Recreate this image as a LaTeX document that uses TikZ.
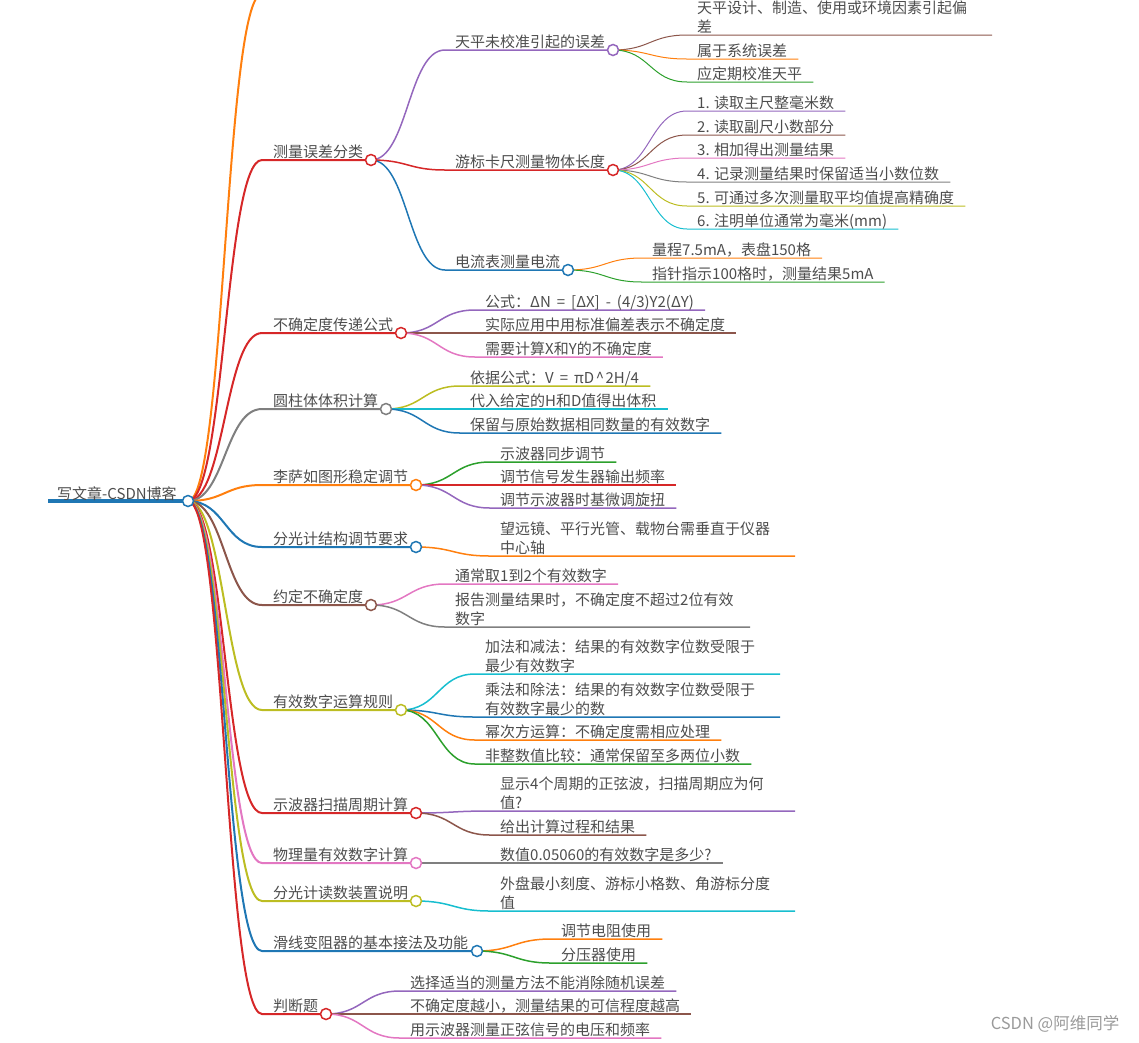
\documentclass[tikz,border=0pt]{standalone}
\usepackage{fontspec}
\setmainfont{Noto Sans CJK SC}
\usetikzlibrary{calc}
\definecolor{cblue}{HTML}{1F77B4}
\definecolor{corange}{HTML}{FF7F0E}
\definecolor{cgreen}{HTML}{2CA02C}
\definecolor{cred}{HTML}{D62728}
\definecolor{cpurple}{HTML}{9467BD}
\definecolor{cbrown}{HTML}{8C564B}
\definecolor{cpink}{HTML}{E377C2}
\definecolor{cgray}{HTML}{7F7F7F}
\definecolor{colive}{HTML}{BCBD22}
\definecolor{ccyan}{HTML}{17BECF}
\definecolor{ctext}{HTML}{4D4D4D}
\definecolor{cmark}{HTML}{9A9A9A}
\newcommand{\fs}{\fontsize{15}{19}\selectfont}
\newcommand{\widesp}{\spaceskip=6pt plus 1pt\relax}
\pgfdeclarelayer{bg}
\pgfsetlayers{bg,main}
\tikzset{
    x=1pt, y=-1pt,
    lbl/.style={anchor=north west, inner sep=0pt, text=ctext, font=\fs, align=left},
    dot/.style={circle, draw=#1, fill=white, line width=1.5pt, minimum size=11pt, inner sep=0pt},
    l1/.style={line width=2pt},
    l2/.style={line width=1.5pt},
    l3/.style={line width=1pt},
    branch/.style={to path={.. controls ($(\tikztostart)!0.5!(\tikztotarget |- \tikztostart)$) and ($(\tikztotarget)!0.5!(\tikztostart |- \tikztotarget)$) .. (\tikztotarget)}}
}

\begin{document}
\begin{tikzpicture}
    \useasboundingbox (0,0) rectangle (1139,1042);
    \clip (0,0) rectangle (1139,1042);
    % root
    \node[lbl] (root) at (57,486) {写文章-CSDN博客};
    \node[dot=cblue] (r0) at (188,501) {};
    \coordinate (s0) at (48,501);
    \coordinate (sx) at (262,-6);

    % first level
    \node[lbl] (t1) at (273,145) {测量误差分类};
    \node[dot=cred] (n1) at (371,160) {};
    \coordinate (s1) at (262,160);
    \node[lbl] (t2) at (273,318) {不确定度传递公式};
    \node[dot=cred] (n2) at (401,333) {};
    \coordinate (s2) at (262,333);
    \node[lbl] (t3) at (273,394) {圆柱体体积计算};
    \node[dot=cgray] (n3) at (386,409) {};
    \coordinate (s3) at (262,409);
    \node[lbl] (t4) at (273,470) {李萨如图形稳定调节};
    \node[dot=corange] (n4) at (416,485) {};
    \coordinate (s4) at (262,485);
    \node[lbl] (t5) at (273,532) {分光计结构调节要求};
    \node[dot=cblue] (n5) at (416,547) {};
    \coordinate (s5) at (262,547);
    \node[lbl] (t6) at (273,590) {约定不确定度};
    \node[dot=cbrown] (n6) at (371,605) {};
    \coordinate (s6) at (262,605);
    \node[lbl] (t7) at (273,695) {有效数字运算规则};
    \node[dot=colive] (n7) at (401,710) {};
    \coordinate (s7) at (262,710);
    \node[lbl] (t8) at (273,798) {示波器扫描周期计算};
    \node[dot=cred] (n8) at (416,813) {};
    \coordinate (s8) at (262,813);
    \node[lbl] (t9) at (273,848) {物理量有效数字计算};
    \node[dot=cpink] (n9) at (416,863) {};
    \coordinate (s9) at (262,863);
    \node[lbl] (t10) at (273,886) {分光计读数装置说明};
    \node[dot=colive] (n10) at (416,901) {};
    \coordinate (s10) at (262,901);
    \node[lbl] (t11) at (273,936) {滑线变阻器的基本接法及功能};
    \node[dot=cblue] (n11) at (477,951) {};
    \coordinate (s11) at (262,951);
    \node[lbl] (t12) at (273,999) {判断题};
    \node[dot=cred] (n12) at (326,1014) {};
    \coordinate (s12) at (262,1014);

    % second level
    \node[lbl] (t1a) at (455,35) {天平未校准引起的误差};
    \node[dot=cpurple] (n1a) at (613,50) {};
    \coordinate (s1a) at (445,50);
    \node[lbl] (t1b) at (455,155) {游标卡尺测量物体长度};
    \node[dot=cred] (n1b) at (613,170) {};
    \coordinate (s1b) at (445,170);
    \node[lbl] (t1c) at (455,255) {电流表测量电流};
    \node[dot=cblue] (n1c) at (568,270) {};
    \coordinate (s1c) at (445,270);

    \node[lbl] (t2a) at (485,295) {\widesp 公式：ΔN = [ΔX] - (4/3)Y2(ΔY)};
    \coordinate (s2a) at (475,310);
    \node[lbl] (t2b) at (485,318) {实际应用中用标准偏差表示不确定度};
    \coordinate (s2b) at (475,333);
    \node[lbl] (t2c) at (485,342) {需要计算X和Y的不确定度};
    \coordinate (s2c) at (475,357);

    \node[lbl] (t3a) at (470,371) {\widesp 依据公式：V = πD\kern1.5pt\textasciicircum\kern1.5pt 2H/4};
    \coordinate (s3a) at (460,386);
    \node[lbl] (t3b) at (470,394) {代入给定的H和D值得出体积};
    \coordinate (s3b) at (460,409);
    \node[lbl] (t3c) at (470,418) {保留与原始数据相同数量的有效数字};
    \coordinate (s3c) at (460,433);

    \node[lbl] (t4a) at (500,447) {示波器同步调节};
    \coordinate (s4a) at (490,462);
    \node[lbl] (t4b) at (500,470) {调节信号发生器输出频率};
    \coordinate (s4b) at (490,485);
    \node[lbl] (t4c) at (500,493) {调节示波器时基微调旋扭};
    \coordinate (s4c) at (490,508);

    \node[lbl] (t5a) at (500,522) {望远镜、平行光管、载物台需垂直于仪器\\中心轴};
    \coordinate (s5a) at (490,556);

    \node[lbl] (t6a) at (455,569) {通常取1到2个有效数字};
    \coordinate (s6a) at (445,584);
    \node[lbl] (t6b) at (455,593) {报告测量结果时，不确定度不超过2位有效\\数字};
    \coordinate (s6b) at (445,627);

    \node[lbl] (t7a) at (485,640) {加法和减法：结果的有效数字位数受限于\\最少有效数字};
    \coordinate (s7a) at (475,674);
    \node[lbl] (t7b) at (485,683) {乘法和除法：结果的有效数字位数受限于\\有效数字最少的数};
    \coordinate (s7b) at (475,717);
    \node[lbl] (t7c) at (485,725) {幂次方运算：不确定度需相应处理};
    \coordinate (s7c) at (475,740);
    \node[lbl] (t7d) at (485,749) {非整数值比较：通常保留至多两位小数};
    \coordinate (s7d) at (475,764);

    \node[lbl] (t8a) at (500,777) {显示4个周期的正弦波，扫描周期应为何\\值?};
    \coordinate (s8a) at (490,811);
    \node[lbl] (t8b) at (500,820) {给出计算过程和结果};
    \coordinate (s8b) at (490,835);

    \node[lbl] (t9a) at (500,848) {数值0.05060的有效数字是多少?};
    \coordinate (s9a) at (490,863);

    \node[lbl] (t10a) at (500,877) {外盘最小刻度、游标小格数、角游标分度\\值};
    \coordinate (s10a) at (490,911);

    \node[lbl] (t11a) at (561,924) {调节电阻使用};
    \coordinate (s11a) at (551,939);
    \node[lbl] (t11b) at (561,948) {分压器使用};
    \coordinate (s11b) at (551,963);

    \node[lbl] (t12a) at (410,976) {选择适当的测量方法不能消除随机误差};
    \coordinate (s12a) at (400,991);
    \node[lbl] (t12b) at (410,999) {不确定度越小，测量结果的可信程度越高};
    \coordinate (s12b) at (400,1014);
    \node[lbl] (t12c) at (410,1023) {用示波器测量正弦信号的电压和频率};
    \coordinate (s12c) at (400,1038);

    % third level
    \node[lbl] (t1a1) at (697,1) {天平设计、制造、使用或环境因素引起偏\\差};
    \coordinate (s1a1) at (687,35);
    \node[lbl] (t1a2) at (697,44) {属于系统误差};
    \coordinate (s1a2) at (687,59);
    \node[lbl] (t1a3) at (697,67) {应定期校准天平};
    \coordinate (s1a3) at (687,82);

    \node[lbl] (t1b1) at (697,96) {1. 读取主尺整毫米数};
    \coordinate (s1b1) at (687,111);
    \node[lbl] (t1b2) at (697,120) {2. 读取副尺小数部分};
    \coordinate (s1b2) at (687,135);
    \node[lbl] (t1b3) at (697,143) {3. 相加得出测量结果};
    \coordinate (s1b3) at (687,158);
    \node[lbl] (t1b4) at (697,167) {4. 记录测量结果时保留适当小数位数};
    \coordinate (s1b4) at (687,182);
    \node[lbl] (t1b5) at (697,191) {5. 可通过多次测量取平均值提高精确度};
    \coordinate (s1b5) at (687,206);
    \node[lbl] (t1b6) at (697,214) {6. 注明单位通常为毫米(mm)};
    \coordinate (s1b6) at (687,229);

    \node[lbl] (t1c1) at (652,243) {量程7.5mA，表盘150格};
    \coordinate (s1c1) at (642,258);
    \node[lbl] (t1c2) at (652,267) {指针指示100格时，测量结果5mA};
    \coordinate (s1c2) at (642,282);

    \node[inner sep=0pt, font=\fontsize{16.5}{19}\selectfont, text=cmark] (mark) at (1055,1024) {CSDN @阿维同学};

    \begin{pgfonlayer}{bg}
    \draw[cblue, line width=4pt] (s0) -- (r0.center);
    \draw[l1,corange] (r0.center) to[branch] (sx);
    \draw[l1,cred] (r0.center) to[branch] (s1) -- (n1.center);
    \draw[l1,cred] (r0.center) to[branch] (s2) -- (n2.center);
    \draw[l1,cgray] (r0.center) to[branch] (s3) -- (n3.center);
    \draw[l1,corange] (r0.center) to[branch] (s4) -- (n4.center);
    \draw[l1,cblue] (r0.center) to[branch] (s5) -- (n5.center);
    \draw[l1,cbrown] (r0.center) to[branch] (s6) -- (n6.center);
    \draw[l1,colive] (r0.center) to[branch] (s7) -- (n7.center);
    \draw[l1,cred] (r0.center) to[branch] (s8) -- (n8.center);
    \draw[l1,cpink] (r0.center) to[branch] (s9) -- (n9.center);
    \draw[l1,colive] (r0.center) to[branch] (s10) -- (n10.center);
    \draw[l1,cblue] (r0.center) to[branch] (s11) -- (n11.center);
    \draw[l1,cred] (r0.center) to[branch] (s12) -- (n12.center);

    \draw[l2,cpurple] (n1.center) to[branch] (s1a) -- (n1a.center);
    \draw[l2,cred] (n1.center) to[branch] (s1b) -- (n1b.center);
    \draw[l2,cblue] (n1.center) to[branch] (s1c) -- (n1c.center);
    \draw[l2,cpurple] (n2.center) to[branch] (s2a) -- ($(s2a -| t2a.east)+(11,0)$);
    \draw[l2,cbrown] (n2.center) to[branch] (s2b) -- ($(s2b -| t2b.east)+(11,0)$);
    \draw[l2,cpink] (n2.center) to[branch] (s2c) -- ($(s2c -| t2c.east)+(11,0)$);
    \draw[l2,colive] (n3.center) to[branch] (s3a) -- ($(s3a -| t3a.east)+(11,0)$);
    \draw[l2,ccyan] (n3.center) to[branch] (s3b) -- ($(s3b -| t3b.east)+(11,0)$);
    \draw[l2,cblue] (n3.center) to[branch] (s3c) -- ($(s3c -| t3c.east)+(11,0)$);
    \draw[l2,cgreen] (n4.center) to[branch] (s4a) -- ($(s4a -| t4a.east)+(11,0)$);
    \draw[l2,cred] (n4.center) to[branch] (s4b) -- ($(s4b -| t4b.east)+(11,0)$);
    \draw[l2,cpurple] (n4.center) to[branch] (s4c) -- ($(s4c -| t4c.east)+(11,0)$);
    \draw[l2,corange] (n5.center) to[branch] (s5a) -- ($(s5a)+(305,0)$);
    \draw[l2,cpink] (n6.center) to[branch] (s6a) -- ($(s6a -| t6a.east)+(11,0)$);
    \draw[l2,cgray] (n6.center) to[branch] (s6b) -- ($(s6b)+(305,0)$);
    \draw[l2,ccyan] (n7.center) to[branch] (s7a) -- ($(s7a)+(305,0)$);
    \draw[l2,cblue] (n7.center) to[branch] (s7b) -- ($(s7b)+(305,0)$);
    \draw[l2,corange] (n7.center) to[branch] (s7c) -- ($(s7c -| t7c.east)+(11,0)$);
    \draw[l2,cgreen] (n7.center) to[branch] (s7d) -- ($(s7d -| t7d.east)+(11,0)$);
    \draw[l2,cpurple] (n8.center) to[branch] (s8a) -- ($(s8a)+(305,0)$);
    \draw[l2,cbrown] (n8.center) to[branch] (s8b) -- ($(s8b -| t8b.east)+(11,0)$);
    \draw[l2,cgray] (n9.center) to[branch] (s9a) -- ($(s9a -| t9a.east)+(11,0)$);
    \draw[l2,ccyan] (n10.center) to[branch] (s10a) -- ($(s10a)+(305,0)$);
    \draw[l2,corange] (n11.center) to[branch] (s11a) -- ($(s11a -| t11a.east)+(11,0)$);
    \draw[l2,cgreen] (n11.center) to[branch] (s11b) -- ($(s11b -| t11b.east)+(11,0)$);
    \draw[l2,cpurple] (n12.center) to[branch] (s12a) -- ($(s12a -| t12a.east)+(11,0)$);
    \draw[l2,cbrown] (n12.center) to[branch] (s12b) -- ($(s12b -| t12b.east)+(11,0)$);
    \draw[l2,cpink] (n12.center) to[branch] (s12c) -- ($(s12c -| t12c.east)+(11,0)$);

    \draw[l3,cbrown] (n1a.center) to[branch] (s1a1) -- ($(s1a1)+(305,0)$);
    \draw[l3,corange] (n1a.center) to[branch] (s1a2) -- ($(s1a2 -| t1a2.east)+(11,0)$);
    \draw[l3,cgreen] (n1a.center) to[branch] (s1a3) -- ($(s1a3 -| t1a3.east)+(11,0)$);
    \draw[l3,cpurple] (n1b.center) to[branch] (s1b1) -- ($(s1b1 -| t1b1.east)+(11,0)$);
    \draw[l3,cbrown] (n1b.center) to[branch] (s1b2) -- ($(s1b2 -| t1b2.east)+(11,0)$);
    \draw[l3,cpink] (n1b.center) to[branch] (s1b3) -- ($(s1b3 -| t1b3.east)+(11,0)$);
    \draw[l3,cgray] (n1b.center) to[branch] (s1b4) -- ($(s1b4 -| t1b4.east)+(11,0)$);
    \draw[l3,colive] (n1b.center) to[branch] (s1b5) -- ($(s1b5 -| t1b5.east)+(11,0)$);
    \draw[l3,ccyan] (n1b.center) to[branch] (s1b6) -- ($(s1b6 -| t1b6.east)+(11,0)$);
    \draw[l3,corange] (n1c.center) to[branch] (s1c1) -- ($(s1c1 -| t1c1.east)+(11,0)$);
    \draw[l3,cgreen] (n1c.center) to[branch] (s1c2) -- ($(s1c2 -| t1c2.east)+(11,0)$);
    \end{pgfonlayer}
\end{tikzpicture}
\end{document}
